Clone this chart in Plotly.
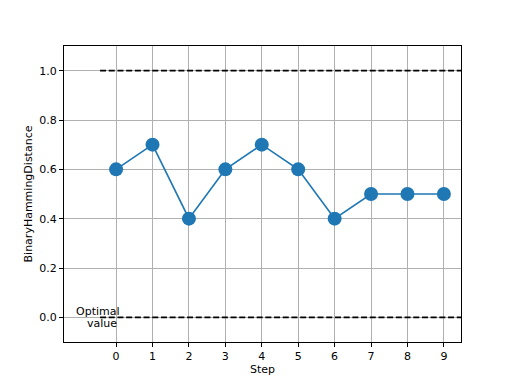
import plotly.graph_objects as go

steps = [0, 1, 2, 3, 4, 5, 6, 7, 8, 9]
values = [0.6, 0.7, 0.4, 0.6, 0.7, 0.6, 0.4, 0.5, 0.5, 0.5]
optimal_levels = [1.0, 0.0]
ref_x = [-0.44, 9.6]
y_ticks = [0.0, 0.2, 0.4, 0.6, 0.8, 1.0]
label_lines = ["Optimal", "value"]

fig = go.Figure()
for lvl in optimal_levels:
    fig.add_trace(go.Scatter(x=ref_x, y=[lvl, lvl], mode="lines",
                             line=dict(color="black", width=1.7, dash="6px,2.7px"),
                             showlegend=False, hoverinfo="skip"))
fig.add_trace(go.Scatter(x=steps, y=values, mode="lines+markers",
                         line=dict(color="#1f77b4", width=1.7),
                         marker=dict(color="#1f77b4", size=14),
                         showlegend=False, cliponaxis=False))

fig.add_annotation(x=-0.5, y=0.0, text=label_lines[0], showarrow=False,
                   xanchor="center", yanchor="middle", yshift=6,
                   font=dict(family="DejaVu Sans", size=11, color="black"))
fig.add_annotation(x=-0.5, y=0.0, text=label_lines[1], showarrow=False,
                   xanchor="center", yanchor="middle", yshift=-6, xshift=4,
                   font=dict(family="DejaVu Sans", size=11, color="black"))

axis_common = dict(showline=True, linecolor="black", linewidth=1, mirror=True,
                   showgrid=True, gridcolor="#b0b0b0", gridwidth=0.9,
                   ticks="outside", ticklen=4, tickcolor="black", tickwidth=1,
                   zeroline=False, tickfont=dict(family="DejaVu Sans", size=11, color="black"))

fig.update_layout(
    width=512, height=384,
    margin=dict(l=56, r=59, t=38, b=50),
    plot_bgcolor="white", paper_bgcolor="white",
    font=dict(family="DejaVu Sans", size=11, color="black"),
    xaxis=dict(range=[-1.43, 9.47], tickvals=steps,
               title=dict(text="Step", font=dict(size=11), standoff=2), **axis_common),
    yaxis=dict(range=[-0.1, 1.1], tickvals=y_ticks, tickformat=".1f",
               title=dict(text="BinaryHammingDistance", font=dict(size=11), standoff=4), **axis_common),
)

fig.write_html("out.html")
